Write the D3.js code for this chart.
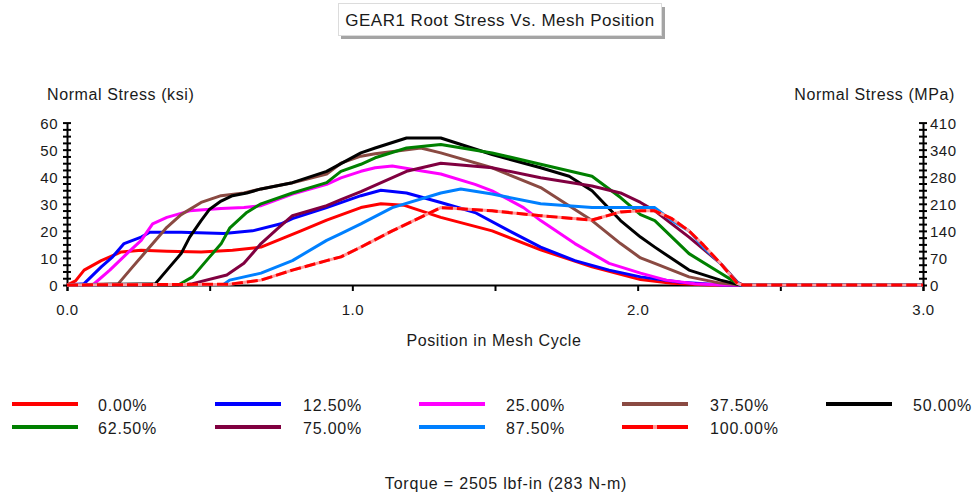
<!DOCTYPE html>
<html><head><meta charset="utf-8">
<script src="https://cdn.jsdelivr.net/npm/d3@7"></script>
<style>
html,body{margin:0;padding:0;background:#fff;}
svg{display:block;font-family:"Liberation Sans",Arial,sans-serif;}
</style></head><body>
<svg id="chart" width="978" height="496"></svg>
<script>
// Load-sharing cases (percent of face width) and root stress, ksi, vs. mesh position
const seriesNames = ["0.00%", "12.50%", "25.00%", "37.50%", "50.00%",
                     "62.50%", "75.00%", "87.50%", "100.00%"];
const seriesColors = ["#ff0000", "#0000ff", "#ff00ff", "#8a4a42", "#000000",
                      "#008000", "#800040", "#0080ff", "#ff0000"];

const stress000 = [[0,0],[0.03,1.5],[0.06,5.5],[0.12,9],[0.19,12.2],[0.26,12.8],[0.35,12.5],[0.47,12.2],[0.58,12.8],[0.68,14],[0.82,20],[0.91,24],[1.03,28.6],[1.1,30],[1.18,29.5],[1.31,25],[1.49,20],[1.66,13],[1.84,6.7],[2.01,2],[2.12,0.6],[2.25,0],[3,0]];
const stress125 = [[0,0],[0.06,0.5],[0.12,6.7],[0.16,10.4],[0.2,15.3],[0.26,17.7],[0.29,19.5],[0.4,19.5],[0.55,19],[0.65,20],[0.75,22.6],[0.79,24.5],[0.91,28.6],[1.03,33],[1.1,35],[1.19,34],[1.31,30.5],[1.43,26.8],[1.55,20],[1.66,14],[1.78,9],[1.9,5.5],[2.01,3],[2.15,1],[2.3,0],[3,0]];
const stress250 = [[0,0],[0.09,0],[0.15,5.5],[0.21,11.6],[0.26,16.5],[0.3,22.6],[0.35,25],[0.43,27.4],[0.54,28.3],[0.62,28.6],[0.68,29.3],[0.79,33.6],[0.91,37.2],[0.96,39.6],[1.03,42],[1.08,43.3],[1.14,44],[1.25,42],[1.31,41],[1.43,37.2],[1.49,34.8],[1.6,28.6],[1.66,23.8],[1.78,15.3],[1.9,8],[2.01,4.4],[2.1,1.8],[2.2,0.5],[2.3,0],[3,0]];
const stress375 = [[0,0],[0.18,0.5],[0.23,6.7],[0.29,14],[0.35,21.3],[0.4,26],[0.47,30.5],[0.54,33],[0.62,34],[0.68,35.5],[0.79,37.8],[0.91,41],[0.96,45],[1.03,47.6],[1.08,48.5],[1.24,50.6],[1.31,48.8],[1.49,43.3],[1.66,36],[1.84,23.8],[1.94,15.3],[2.01,10],[2.06,8],[2.18,3],[2.29,0.7],[2.36,0],[3,0]];
const stress500 = [[0,0],[0.31,0.5],[0.36,6.7],[0.4,11.6],[0.43,17.7],[0.47,23.8],[0.5,28],[0.54,31],[0.58,33],[0.63,34],[0.68,35.5],[0.79,37.8],[0.91,42],[1.03,48.8],[1.08,50.6],[1.19,54.3],[1.31,54.3],[1.49,48.2],[1.66,43.3],[1.76,40.2],[1.84,34.8],[1.94,23.8],[2.01,17.7],[2.06,14],[2.18,5.5],[2.29,1.8],[2.36,0],[3,0]];
const stress625 = [[0,0],[0.39,0],[0.44,3],[0.5,10.4],[0.54,15.2],[0.57,21],[0.63,26.8],[0.68,30],[0.79,34],[0.91,37.8],[0.96,42],[1.03,44.6],[1.08,47],[1.19,50.6],[1.31,51.9],[1.49,48.8],[1.66,44.6],[1.84,40.2],[1.94,32.3],[2.01,26],[2.06,23.8],[2.18,11.6],[2.29,4.4],[2.35,0.5],[2.37,0],[3,0]];
const stress750 = [[0,0],[0.4,0],[0.44,0.5],[0.56,3.7],[0.62,8],[0.68,15.3],[0.74,21],[0.79,25.6],[0.91,29.3],[0.96,31.5],[1.03,34.5],[1.19,42],[1.31,45],[1.49,43.3],[1.66,39.6],[1.84,36.6],[1.94,34],[2.01,30.5],[2.06,27.4],[2.18,17.7],[2.29,8],[2.35,1],[2.37,0],[3,0]];
const stress875 = [[0,0],[0.55,0.3],[0.57,1.8],[0.68,4.4],[0.79,9],[0.91,16.5],[0.96,19],[1.03,22.6],[1.14,28.6],[1.31,34],[1.38,35.5],[1.49,33.6],[1.66,30],[1.84,28.6],[2.01,28.6],[2.06,28.6],[2.12,23.8],[2.18,20],[2.23,14],[2.29,8],[2.34,1.8],[2.36,0],[3,0]];
const stress1000 = [[0,0],[0.57,0.3],[0.68,1.8],[0.79,5.5],[0.91,9],[0.96,10.4],[1.03,14],[1.14,20],[1.31,28.6],[1.49,27.4],[1.66,25.6],[1.84,24],[1.94,27],[2.01,27.4],[2.06,27.4],[2.12,24.5],[2.18,20],[2.23,14.8],[2.29,8],[2.35,0.5],[2.37,0],[3,0]];
const seriesData = [stress000, stress125, stress250, stress375, stress500,
                    stress625, stress750, stress875, stress1000];

const xTickValues = [0, 0.5, 1, 1.5, 2, 2.5, 3];
const xTickLabels = ["0.0", "", "1.0", "", "2.0", "", "3.0"];
const yTickValues = [0, 10, 20, 30, 40, 50, 60];
const yTickLabels = ["0", "10", "20", "30", "40", "50", "60"];
const mpaTickLabels = ["0", "70", "140", "210", "280", "340", "410"];

const svg = d3.select("#chart");
const x = d3.scaleLinear().domain([0, 3]).range([67, 923]);
const y = d3.scaleLinear().domain([0, 60]).range([285, 122.6]);
const minorY = d3.range(0, 60.01, 2.5);
const textColor = "#1a1a1a";

// Title box with drop shadow
svg.append("rect").attr("x", 341).attr("y", 7).attr("width", 324).attr("height", 32).attr("fill", "#a4a4a4");
svg.append("rect").attr("x", 338.5).attr("y", 3.5).attr("width", 323).attr("height", 32)
  .attr("fill", "#fff").attr("stroke", "#dcdcdc");
svg.append("text").attr("x", 500).attr("y", 26).attr("text-anchor", "middle")
  .attr("font-size", 17).attr("letter-spacing", 0.5).attr("fill", textColor)
  .text("GEAR1 Root Stress Vs. Mesh Position");

// Axis titles
svg.append("text").attr("x", 47).attr("y", 100).attr("font-size", 16).attr("letter-spacing", 0.6)
  .attr("fill", textColor).text("Normal Stress (ksi)");
svg.append("text").attr("x", 955).attr("y", 100).attr("text-anchor", "end").attr("font-size", 16)
  .attr("letter-spacing", 0.6).attr("fill", textColor).text("Normal Stress (MPa)");
svg.append("text").attr("x", 494).attr("y", 346).attr("text-anchor", "middle").attr("font-size", 16)
  .attr("letter-spacing", 0.6).attr("fill", textColor).text("Position in Mesh Cycle");

function styleAxis(g) {
  g.select(".domain").attr("stroke", "#000").attr("stroke-width", 2);
  g.selectAll(".tick line").attr("stroke", "#000").attr("stroke-width", 2);
  g.selectAll(".tick text").attr("font-size", 15).attr("letter-spacing", 0.5)
    .attr("fill", textColor).attr("font-family", "Liberation Sans, Arial, sans-serif");
}

// Left axis (ksi): cross ticks every 2.5
const gL = svg.append("g").attr("transform", `translate(${x(0)},0)`)
  .call(d3.axisLeft(y).tickValues(minorY).tickSizeOuter(0)
    .tickFormat(d => { const i = yTickValues.indexOf(d); return i >= 0 ? yTickLabels[i] : ""; }));
gL.selectAll(".tick line").attr("x1", -4).attr("x2", 4);
gL.selectAll(".tick text").attr("x", -9).attr("dy", "0.38em");
styleAxis(gL);

// Right axis (MPa), same tick positions
const gR = svg.append("g").attr("transform", `translate(${x(3)},0)`)
  .call(d3.axisRight(y).tickValues(minorY).tickSizeOuter(0)
    .tickFormat(d => { const i = yTickValues.indexOf(d); return i >= 0 ? mpaTickLabels[i] : ""; }));
gR.selectAll(".tick line").attr("x1", -4).attr("x2", 4);
gR.selectAll(".tick text").attr("x", 7).attr("dy", "0.38em");
styleAxis(gR);

// Bottom axis
const gB = svg.append("g").attr("transform", `translate(0,${y(0)})`)
  .call(d3.axisBottom(x).tickValues(xTickValues).tickSizeOuter(0).tickSize(6)
    .tickFormat((d, i) => xTickLabels[i]));
gB.selectAll(".tick text").attr("y", 30).attr("dy", 0);
styleAxis(gB);

// Stress curves
const line = d3.line().x(d => x(d[0])).y(d => y(d[1]));
const plot = svg.append("g");
seriesData.forEach((data, i) => {
  if (i === 8) {
    plot.append("path").datum(data).attr("d", line).attr("fill", "none")
      .attr("stroke", "#ff9a9a").attr("stroke-width", 3).attr("stroke-linejoin", "round");
    plot.append("path").datum(data).attr("d", line).attr("fill", "none")
      .attr("stroke", seriesColors[i]).attr("stroke-width", 3)
      .attr("stroke-dasharray", "11,4").attr("stroke-linejoin", "round");
  } else {
    plot.append("path").datum(data).attr("d", line).attr("fill", "none")
      .attr("stroke", seriesColors[i]).attr("stroke-width", 3).attr("stroke-linejoin", "round");
  }
});

// Legend: five columns, two rows
const legX = [12, 215, 419, 622, 826];
const legTextX = [98, 303, 506, 710, 913];
const legRowY = [404, 427];
seriesNames.forEach((name, i) => {
  const col = i % 5, row = Math.floor(i / 5);
  const ly = legRowY[row];
  if (i === 8) {
    svg.append("line").attr("x1", legX[col]).attr("x2", legX[col] + 66).attr("y1", ly).attr("y2", ly)
      .attr("stroke", "#ff9a9a").attr("stroke-width", 4);
    svg.append("line").attr("x1", legX[col]).attr("x2", legX[col] + 66).attr("y1", ly).attr("y2", ly)
      .attr("stroke", seriesColors[i]).attr("stroke-width", 4).attr("stroke-dasharray", "31,4");
  } else {
    svg.append("line").attr("x1", legX[col]).attr("x2", legX[col] + 66).attr("y1", ly).attr("y2", ly)
      .attr("stroke", seriesColors[i]).attr("stroke-width", 4);
  }
  svg.append("text").attr("x", legTextX[col]).attr("y", ly + 7).attr("font-size", 16)
    .attr("letter-spacing", 0.8).attr("fill", textColor).text(name);
});

// Torque note
svg.append("text").attr("x", 506).attr("y", 489).attr("text-anchor", "middle").attr("font-size", 16)
  .attr("letter-spacing", 0.8).attr("fill", textColor).text("Torque = 2505 lbf-in (283 N-m)");
</script></body></html>
